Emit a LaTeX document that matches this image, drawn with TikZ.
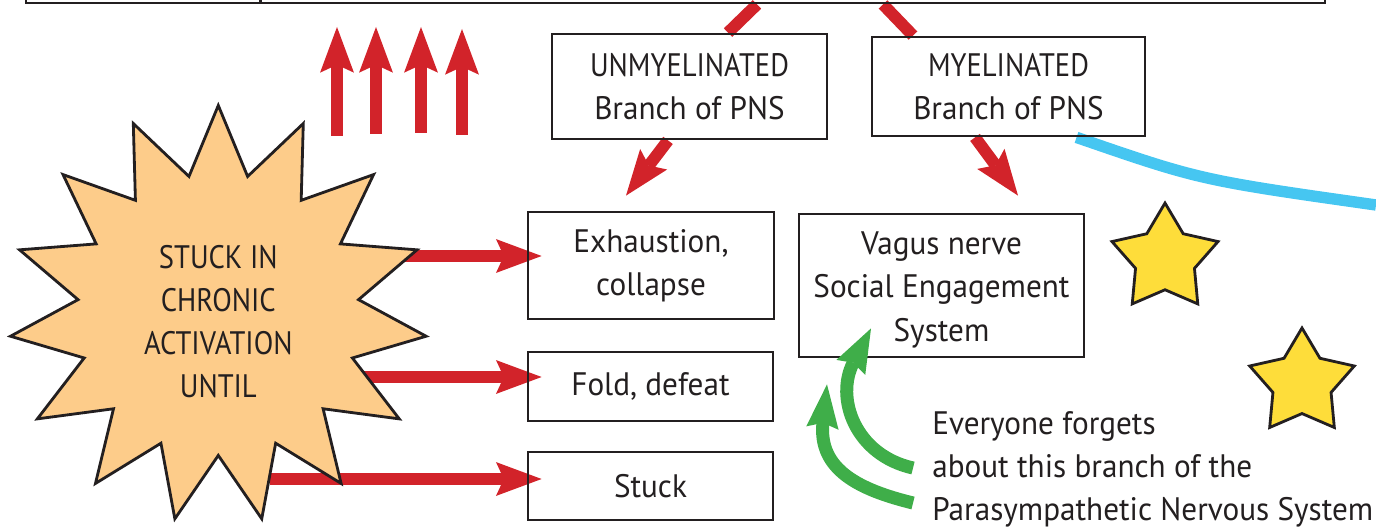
\documentclass[tikz,border=0pt]{standalone}
\usepackage{fontspec}
\setmainfont{PT Sans}[FakeStretch=0.96]
\newfontfamily\capsfont{PT Sans}[FakeStretch=0.88]
\usetikzlibrary{arrows.meta,shapes.geometric,calc,backgrounds}

\definecolor{ink}{HTML}{231F20}
\definecolor{alarmred}{HTML}{D2232A}
\definecolor{calmgreen}{HTML}{3FAE49}
\definecolor{vagalblue}{HTML}{46C6F1}
\definecolor{burstorange}{HTML}{FDCC8A}
\definecolor{stargold}{HTML}{FEDD3A}

\newcommand\handtext{\fontsize{18.5}{24.5}\selectfont}

\tikzset{
  box/.style={draw=ink, line width=1.6pt, align=center, inner sep=0pt, text=ink, font=\handtext},
  capsbox/.style={box, font=\handtext\capsfont},
  burst/.style={star, star points=15, star point ratio=1.482, minimum size=8.36cm, inner sep=0pt,
    draw=ink, line width=1.6pt, fill=burstorange, align=center, text=ink, font=\handtext\capsfont},
  gold/.style={star, star points=5, star point ratio=1.8, minimum size=2.23cm, inner sep=0pt,
    draw=ink, line width=1.6pt, fill=stargold},
  note/.style={align=left, inner sep=0pt, text=ink, font=\handtext},
  redline/.style={draw=alarmred, line width=6.8pt},
  redarrow/.style={redline, -{Stealth[length=26pt, width=19.3pt, inset=4.5pt, line width=0pt]}},
  blueline/.style={draw=vagalblue, line width=6.5pt},
  greenarrow/.style={draw=calmgreen, line width=7.4pt, -{Stealth[length=25pt, width=18.5pt, inset=3pt, line width=0pt]}}
}

\begin{document}
\begin{tikzpicture}[x=0.02cm, y=-0.02cm]
        \useasboundingbox (0,0) rectangle (1376,527);
        \clip (0,0) rectangle (1376,527);

        % boxes
        \node[box, minimum width=4.68cm, minimum height=0.66cm] (rootL) at (143, -13.5) {};
        \node[box, minimum width=21.3cm, minimum height=0.66cm] (root) at (792.5, -13.5) {};
        \node[capsbox, minimum width=5.5cm, minimum height=2.1cm] (unmy) at (689.5, 86.5) {UNMYELINATED\\{\fontspec{PT Sans}[FakeStretch=0.96]Branch of PNS}};
        \node[capsbox, minimum width=5.46cm, minimum height=1.98cm] (myel) at (1008.5, 86.5) {MYELINATED\\{\fontspec{PT Sans}[FakeStretch=0.96]Branch of PNS}};
        \node[box, minimum width=4.92cm, minimum height=2.14cm] (exh) at (651, 265.5) {Exhaustion,\\collapse};
        \node[box, minimum width=4.9cm, minimum height=1.38cm] (fold) at (650.5, 386.5) {Fold, defeat};
        \node[box, minimum width=4.9cm, minimum height=1.36cm] (stuck) at (650.5, 486) {Stuck};
        \node[box, minimum width=5.7cm, minimum height=2.86cm] (vagus) at (941.5, 285.5) {\rule{0pt}{18pt}Vagus nerve\\Social Engagement\\System};

        \node[burst] (burst) at (218.3, 314.4) {\rule{0pt}{21pt}STUCK IN\\CHRONIC\\ACTIVATION\\UNTIL};

        \node[gold] (goldA) at (1165, 258.8) {};
        \node[gold, minimum size=2.2cm] (goldB) at (1302, 383) {};

        \node[note, anchor=north west] (forgot) at (932, 411) {Everyone forgets\\about this branch of the\\Parasympathetic Nervous System};

        \coordinate (exhtip) at ($(exh.west)+(15,-9.5)$);
        \coordinate (foldtip) at ($(fold.west)+(15,-9.5)$);
        \coordinate (stucktip) at ($(stuck.west)+(15,-7)$);
        \coordinate (burstedge) at ($(burst.center)+(52,0)$);
        \coordinate (offedge) at (1376, 205);
        \coordinate (forgetA) at (913, 468);
        \coordinate (forgetB) at (913, 503);

        \begin{scope}[on background layer]
            \draw [redline] ($(root.south)+(-35.5,0)$) -- ($(unmy.north)+(38.5,0)$);
            \draw [redline] ($(root.south)+(90.5,0)$) -- ($(myel.north)+(-95.5,0)$);
            \draw [redarrow] ($(unmy.south)+(-21.5,0)$) -> ($(exh.north)+(-25,-15)$);
            \draw [redarrow] ($(myel.south)+(-33.5,0)$) -> ($(vagus.north)+(76.5,-17)$);

            \draw [redarrow] (burstedge |- exhtip) -> (exhtip);
            \draw [redarrow] (burstedge |- foldtip) -> (foldtip);
            \draw [redarrow] (burstedge |- stucktip) -> (stucktip);

            \draw [blueline] ($(myel.south)+(68,0)$) .. controls (1200, 180) .. (offedge);
        \end{scope}

        % rising arrows
        \foreach \x/\yb/\yt in {337/136/27, 376/134/27, 421/133/27, 462/135/29}
            \draw [redarrow] (\x, \yb) -> (\x, \yt);

        \draw [greenarrow] (forgetA) .. controls (855, 455) and (835, 398) .. ($(vagus.south)+(-70.5,-30)$);
        \draw [greenarrow] (forgetB) .. controls (860, 490) and (818, 470) .. ($(vagus.south)+(-114.5,26)$);
    \end{tikzpicture}
\end{document}
